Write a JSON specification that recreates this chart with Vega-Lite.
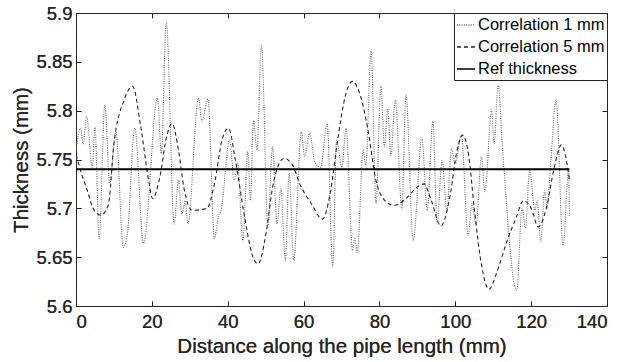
{
  "$schema": "https://vega.github.io/schema/vega-lite/v6.json",
  "width": 531,
  "height": 293,
  "autosize": {"type": "none"},
  "padding": {"left": 76, "top": 13, "right": 25, "bottom": 56},
  "background": "white",
  "config": {
    "font": "Liberation Sans",
    "view": {"stroke": "#262626", "strokeWidth": 1},
    "axis": {
      "grid": false,
      "domain": false,
      "offset": -5,
      "ticks": true,
      "tickColor": "#262626",
      "tickWidth": 1,
      "tickSize": 5,
      "labelColor": "#262626",
      "titleColor": "#262626",
      "labelFont": "Liberation Sans",
      "titleFont": "Liberation Sans",
      "labelFontSize": 18.5,
      "titleFontSize": 20.5,
      "titleFontWeight": "normal",
      "labelPadding": 8
    },
    "legend": {
      "orient": "top-right",
      "offset": 0,
      "strokeColor": "#262626",
      "fillColor": "white",
      "padding": 2,
      "rowPadding": 3,
      "labelFont": "Liberation Sans",
      "labelFontSize": 16.5,
      "labelColor": "#000000",
      "labelOffset": 2,
      "symbolType": "stroke",
      "symbolSize": 324,
      "symbolStrokeWidth": 1.4
    }
  },
  "data": {
    "values": [
      {"s": "Correlation 1 mm", "x": 0, "y": 5.759},
      {"s": "Correlation 1 mm", "x": 1.2, "y": 5.782},
      {"s": "Correlation 1 mm", "x": 1.9, "y": 5.766},
      {"s": "Correlation 1 mm", "x": 2.8, "y": 5.794},
      {"s": "Correlation 1 mm", "x": 4.3, "y": 5.742},
      {"s": "Correlation 1 mm", "x": 5.0, "y": 5.783},
      {"s": "Correlation 1 mm", "x": 6.1, "y": 5.669},
      {"s": "Correlation 1 mm", "x": 7.6, "y": 5.806},
      {"s": "Correlation 1 mm", "x": 8.9, "y": 5.726},
      {"s": "Correlation 1 mm", "x": 10.5, "y": 5.778},
      {"s": "Correlation 1 mm", "x": 12.5, "y": 5.660},
      {"s": "Correlation 1 mm", "x": 13.6, "y": 5.676},
      {"s": "Correlation 1 mm", "x": 15.5, "y": 5.782},
      {"s": "Correlation 1 mm", "x": 17.8, "y": 5.664},
      {"s": "Correlation 1 mm", "x": 21.5, "y": 5.813},
      {"s": "Correlation 1 mm", "x": 22.5, "y": 5.756},
      {"s": "Correlation 1 mm", "x": 23.8, "y": 5.891},
      {"s": "Correlation 1 mm", "x": 25.9, "y": 5.684},
      {"s": "Correlation 1 mm", "x": 27.0, "y": 5.729},
      {"s": "Correlation 1 mm", "x": 27.9, "y": 5.694},
      {"s": "Correlation 1 mm", "x": 28.8, "y": 5.708},
      {"s": "Correlation 1 mm", "x": 29.5, "y": 5.684},
      {"s": "Correlation 1 mm", "x": 32.3, "y": 5.813},
      {"s": "Correlation 1 mm", "x": 33.2, "y": 5.789},
      {"s": "Correlation 1 mm", "x": 34.8, "y": 5.812},
      {"s": "Correlation 1 mm", "x": 36.5, "y": 5.669},
      {"s": "Correlation 1 mm", "x": 37.6, "y": 5.693},
      {"s": "Correlation 1 mm", "x": 38.2, "y": 5.697},
      {"s": "Correlation 1 mm", "x": 40.5, "y": 5.770},
      {"s": "Correlation 1 mm", "x": 41.7, "y": 5.729},
      {"s": "Correlation 1 mm", "x": 42.6, "y": 5.746},
      {"s": "Correlation 1 mm", "x": 44.0, "y": 5.667},
      {"s": "Correlation 1 mm", "x": 45.3, "y": 5.758},
      {"s": "Correlation 1 mm", "x": 46.0, "y": 5.708},
      {"s": "Correlation 1 mm", "x": 46.8, "y": 5.790},
      {"s": "Correlation 1 mm", "x": 47.7, "y": 5.760},
      {"s": "Correlation 1 mm", "x": 48.9, "y": 5.867},
      {"s": "Correlation 1 mm", "x": 50.6, "y": 5.681},
      {"s": "Correlation 1 mm", "x": 51.8, "y": 5.763},
      {"s": "Correlation 1 mm", "x": 53.0, "y": 5.684},
      {"s": "Correlation 1 mm", "x": 54.0, "y": 5.720},
      {"s": "Correlation 1 mm", "x": 55.2, "y": 5.647},
      {"s": "Correlation 1 mm", "x": 56.2, "y": 5.736},
      {"s": "Correlation 1 mm", "x": 57.4, "y": 5.647},
      {"s": "Correlation 1 mm", "x": 59.4, "y": 5.778},
      {"s": "Correlation 1 mm", "x": 60.3, "y": 5.753},
      {"s": "Correlation 1 mm", "x": 61.6, "y": 5.777},
      {"s": "Correlation 1 mm", "x": 63.0, "y": 5.747},
      {"s": "Correlation 1 mm", "x": 64.5, "y": 5.742},
      {"s": "Correlation 1 mm", "x": 66.2, "y": 5.787},
      {"s": "Correlation 1 mm", "x": 67.7, "y": 5.640},
      {"s": "Correlation 1 mm", "x": 68.7, "y": 5.770},
      {"s": "Correlation 1 mm", "x": 70.1, "y": 5.742},
      {"s": "Correlation 1 mm", "x": 71.2, "y": 5.782},
      {"s": "Correlation 1 mm", "x": 72.9, "y": 5.657},
      {"s": "Correlation 1 mm", "x": 73.5, "y": 5.669},
      {"s": "Correlation 1 mm", "x": 74.2, "y": 5.655},
      {"s": "Correlation 1 mm", "x": 75.7, "y": 5.760},
      {"s": "Correlation 1 mm", "x": 76.4, "y": 5.744},
      {"s": "Correlation 1 mm", "x": 77.8, "y": 5.861},
      {"s": "Correlation 1 mm", "x": 79.1, "y": 5.705},
      {"s": "Correlation 1 mm", "x": 80.4, "y": 5.826},
      {"s": "Correlation 1 mm", "x": 81.3, "y": 5.763},
      {"s": "Correlation 1 mm", "x": 82.2, "y": 5.802},
      {"s": "Correlation 1 mm", "x": 83.0, "y": 5.754},
      {"s": "Correlation 1 mm", "x": 84.2, "y": 5.811},
      {"s": "Correlation 1 mm", "x": 85.9, "y": 5.699},
      {"s": "Correlation 1 mm", "x": 87.0, "y": 5.816},
      {"s": "Correlation 1 mm", "x": 88.9, "y": 5.667},
      {"s": "Correlation 1 mm", "x": 91.2, "y": 5.772},
      {"s": "Correlation 1 mm", "x": 92.6, "y": 5.698},
      {"s": "Correlation 1 mm", "x": 94.1, "y": 5.789},
      {"s": "Correlation 1 mm", "x": 95.2, "y": 5.686},
      {"s": "Correlation 1 mm", "x": 96.5, "y": 5.749},
      {"s": "Correlation 1 mm", "x": 97.8, "y": 5.698},
      {"s": "Correlation 1 mm", "x": 99.0, "y": 5.761},
      {"s": "Correlation 1 mm", "x": 100.0, "y": 5.746},
      {"s": "Correlation 1 mm", "x": 101.6, "y": 5.775},
      {"s": "Correlation 1 mm", "x": 103.4, "y": 5.672},
      {"s": "Correlation 1 mm", "x": 104.4, "y": 5.705},
      {"s": "Correlation 1 mm", "x": 105.5, "y": 5.684},
      {"s": "Correlation 1 mm", "x": 106.9, "y": 5.753},
      {"s": "Correlation 1 mm", "x": 107.8, "y": 5.717},
      {"s": "Correlation 1 mm", "x": 109.6, "y": 5.801},
      {"s": "Correlation 1 mm", "x": 110.2, "y": 5.766},
      {"s": "Correlation 1 mm", "x": 111.3, "y": 5.826},
      {"s": "Correlation 1 mm", "x": 112.4, "y": 5.764},
      {"s": "Correlation 1 mm", "x": 116.2, "y": 5.616},
      {"s": "Correlation 1 mm", "x": 117.6, "y": 5.700},
      {"s": "Correlation 1 mm", "x": 118.5, "y": 5.680},
      {"s": "Correlation 1 mm", "x": 119.6, "y": 5.739},
      {"s": "Correlation 1 mm", "x": 121.0, "y": 5.698},
      {"s": "Correlation 1 mm", "x": 121.6, "y": 5.708},
      {"s": "Correlation 1 mm", "x": 122.5, "y": 5.666},
      {"s": "Correlation 1 mm", "x": 123.6, "y": 5.718},
      {"s": "Correlation 1 mm", "x": 124.2, "y": 5.700},
      {"s": "Correlation 1 mm", "x": 125.2, "y": 5.749},
      {"s": "Correlation 1 mm", "x": 126.6, "y": 5.811},
      {"s": "Correlation 1 mm", "x": 128.4, "y": 5.662},
      {"s": "Correlation 1 mm", "x": 129.9, "y": 5.739},
      {"s": "Correlation 1 mm", "x": 130.1, "y": 5.691},
      {"s": "Correlation 5 mm", "x": 0, "y": 5.755},
      {"s": "Correlation 5 mm", "x": 1.5, "y": 5.735},
      {"s": "Correlation 5 mm", "x": 3.0, "y": 5.718},
      {"s": "Correlation 5 mm", "x": 4.5, "y": 5.700},
      {"s": "Correlation 5 mm", "x": 6.5, "y": 5.693},
      {"s": "Correlation 5 mm", "x": 8.5, "y": 5.703},
      {"s": "Correlation 5 mm", "x": 10.0, "y": 5.766},
      {"s": "Correlation 5 mm", "x": 12.7, "y": 5.811},
      {"s": "Correlation 5 mm", "x": 14.9, "y": 5.825},
      {"s": "Correlation 5 mm", "x": 17.1, "y": 5.783},
      {"s": "Correlation 5 mm", "x": 19.3, "y": 5.725},
      {"s": "Correlation 5 mm", "x": 20.2, "y": 5.710},
      {"s": "Correlation 5 mm", "x": 22.0, "y": 5.730},
      {"s": "Correlation 5 mm", "x": 24.0, "y": 5.775},
      {"s": "Correlation 5 mm", "x": 25.3, "y": 5.787},
      {"s": "Correlation 5 mm", "x": 27.0, "y": 5.760},
      {"s": "Correlation 5 mm", "x": 28.5, "y": 5.720},
      {"s": "Correlation 5 mm", "x": 30.6, "y": 5.698},
      {"s": "Correlation 5 mm", "x": 34.5, "y": 5.700},
      {"s": "Correlation 5 mm", "x": 36.5, "y": 5.725},
      {"s": "Correlation 5 mm", "x": 38.5, "y": 5.770},
      {"s": "Correlation 5 mm", "x": 40.2, "y": 5.782},
      {"s": "Correlation 5 mm", "x": 42.0, "y": 5.750},
      {"s": "Correlation 5 mm", "x": 44.5, "y": 5.690},
      {"s": "Correlation 5 mm", "x": 46.5, "y": 5.652},
      {"s": "Correlation 5 mm", "x": 48.0, "y": 5.643},
      {"s": "Correlation 5 mm", "x": 50.0, "y": 5.672},
      {"s": "Correlation 5 mm", "x": 52.0, "y": 5.725},
      {"s": "Correlation 5 mm", "x": 54.8, "y": 5.751},
      {"s": "Correlation 5 mm", "x": 57.0, "y": 5.745},
      {"s": "Correlation 5 mm", "x": 59.0, "y": 5.725},
      {"s": "Correlation 5 mm", "x": 62.0, "y": 5.705},
      {"s": "Correlation 5 mm", "x": 65.0, "y": 5.689},
      {"s": "Correlation 5 mm", "x": 67.0, "y": 5.715},
      {"s": "Correlation 5 mm", "x": 69.0, "y": 5.770},
      {"s": "Correlation 5 mm", "x": 71.0, "y": 5.815},
      {"s": "Correlation 5 mm", "x": 72.9, "y": 5.830},
      {"s": "Correlation 5 mm", "x": 75.0, "y": 5.815},
      {"s": "Correlation 5 mm", "x": 77.0, "y": 5.780},
      {"s": "Correlation 5 mm", "x": 79.0, "y": 5.730},
      {"s": "Correlation 5 mm", "x": 81.0, "y": 5.710},
      {"s": "Correlation 5 mm", "x": 83.8, "y": 5.703},
      {"s": "Correlation 5 mm", "x": 87.0, "y": 5.710},
      {"s": "Correlation 5 mm", "x": 90.0, "y": 5.722},
      {"s": "Correlation 5 mm", "x": 91.8, "y": 5.725},
      {"s": "Correlation 5 mm", "x": 93.5, "y": 5.710},
      {"s": "Correlation 5 mm", "x": 96.2, "y": 5.682},
      {"s": "Correlation 5 mm", "x": 98.5, "y": 5.710},
      {"s": "Correlation 5 mm", "x": 100.5, "y": 5.760},
      {"s": "Correlation 5 mm", "x": 101.9, "y": 5.775},
      {"s": "Correlation 5 mm", "x": 103.5, "y": 5.755},
      {"s": "Correlation 5 mm", "x": 105.0, "y": 5.700},
      {"s": "Correlation 5 mm", "x": 107.0, "y": 5.640},
      {"s": "Correlation 5 mm", "x": 108.9, "y": 5.617},
      {"s": "Correlation 5 mm", "x": 111.0, "y": 5.635},
      {"s": "Correlation 5 mm", "x": 113.5, "y": 5.665},
      {"s": "Correlation 5 mm", "x": 116.0, "y": 5.690},
      {"s": "Correlation 5 mm", "x": 118.0, "y": 5.708},
      {"s": "Correlation 5 mm", "x": 120.0, "y": 5.700},
      {"s": "Correlation 5 mm", "x": 121.9, "y": 5.681},
      {"s": "Correlation 5 mm", "x": 124.0, "y": 5.700},
      {"s": "Correlation 5 mm", "x": 126.0, "y": 5.740},
      {"s": "Correlation 5 mm", "x": 128.0, "y": 5.765},
      {"s": "Correlation 5 mm", "x": 129.0, "y": 5.755},
      {"s": "Correlation 5 mm", "x": 130.1, "y": 5.729},
      {"s": "Ref thickness", "x": 0, "y": 5.74},
      {"s": "Ref thickness", "x": 130.1, "y": 5.74}
    ]
  },
  "encoding": {
    "x": {
      "field": "x", "type": "quantitative",
      "scale": {"domain": [0, 140], "nice": false, "zero": false},
      "axis": {"orient": "bottom", "values": [0, 20, 40, 60, 80, 100, 120, 140], "title": "Distance along the pipe length (mm)", "labelPadding": 6, "titlePadding": 6}
    },
    "y": {
      "field": "y", "type": "quantitative",
      "scale": {"domain": [5.6, 5.9], "nice": false, "zero": false},
      "axis": {"orient": "left", "values": [5.6, 5.65, 5.7, 5.75, 5.8, 5.85, 5.9], "format": ".3~r", "title": "Thickness (mm)", "titlePadding": 4, "labelPadding": 4}
    },
    "color": {
      "field": "s", "type": "nominal",
      "scale": {"domain": ["Correlation 1 mm", "Correlation 5 mm", "Ref thickness"], "range": ["#6e6e6e", "#262626", "#000000"]},
      "legend": {"title": null}
    },
    "strokeDash": {
      "field": "s", "type": "nominal",
      "scale": {"domain": ["Correlation 1 mm", "Correlation 5 mm", "Ref thickness"], "range": [[1, 1.3], [4, 3], [1, 0]]},
      "legend": {"title": null}
    }
  },
  "layer": [
    {
      "transform": [{"filter": "datum.s !== 'Ref thickness'"}],
      "mark": {"type": "line", "interpolate": "monotone", "clip": true, "strokeWidth": 1.1}
    },
    {
      "transform": [{"filter": "datum.s === 'Ref thickness'"}],
      "mark": {"type": "line", "clip": true, "strokeWidth": 2}
    },
    {
      "mark": {"type": "point", "opacity": 0},
      "encoding": {
        "x": {"field": "x", "type": "quantitative", "axis": {"orient": "top", "values": [0, 20, 40, 60, 80, 100, 120, 140], "labels": false, "title": null}},
        "y": {"field": "y", "type": "quantitative", "axis": {"orient": "right", "values": [5.6, 5.65, 5.7, 5.75, 5.8, 5.85, 5.9], "labels": false, "title": null}},
        "color": {"value": "white"},
        "strokeDash": null
      }
    }
  ],
  "resolve": {"axis": {"x": "independent", "y": "independent"}}
}
